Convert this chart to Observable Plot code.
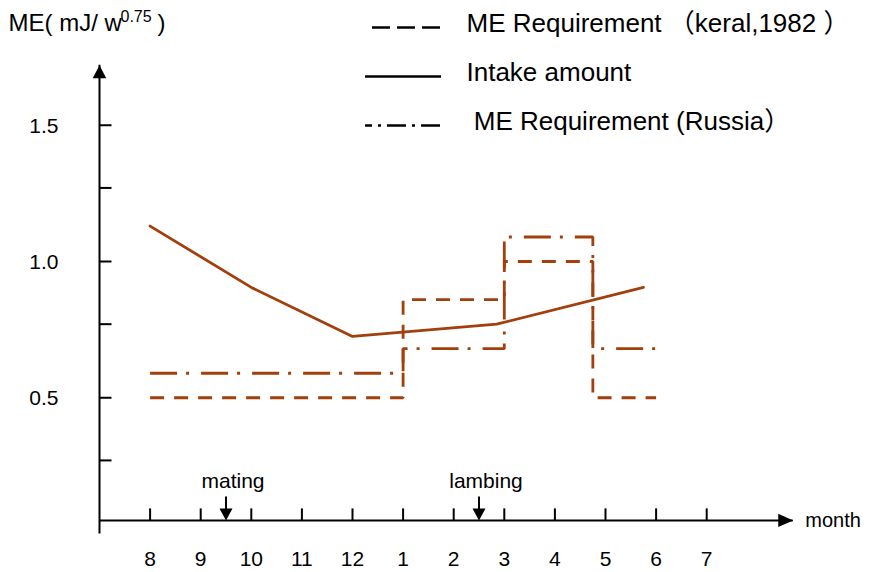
<!DOCTYPE html>
<html><head><meta charset="utf-8">
<script src="https://cdn.jsdelivr.net/npm/d3@7"></script>
<script src="https://cdn.jsdelivr.net/npm/@observablehq/plot@0.6"></script>
<style>
html,body{margin:0;padding:0;background:#fff;}
#chart{position:relative;width:871px;height:572px;overflow:hidden;}
#chart svg{display:block;}
#legend{position:absolute;left:0;top:0;pointer-events:none;}
</style></head><body>
<div id="chart"><div id="main"></div><div id="legend"></div></div>
<script>
// ---- data ----
const months = ["8","9","10","11","12","1","2","3","4","5","6","7"];
const yTickLabels = [1.5, 1.0, 0.5];
const yMinorTicks = [1.27, 0.77, 0.27];
const intakeX = [0, 2, 4, 6.85, 9.75];
const intakeY = [1.13, 0.905, 0.725, 0.77, 0.905];
const keralX = [0, 5, 5, 7, 7, 8.75, 8.75, 10];
const keralY = [0.5, 0.5, 0.86, 0.86, 1.0, 1.0, 0.5, 0.5];
const russiaX = [0, 5, 5, 7, 7, 8.75, 8.75, 10];
const russiaY = [0.59, 0.59, 0.68, 0.68, 1.09, 1.09, 0.68, 0.68];
const eventLabels = ["mating", "lambing"];
const eventMonths = [1.5, 6.5];
const legendLabels = ["ME Requirement （keral,1982 ）", "Intake amount", "\u00A0ME Requirement (Russia）"];
const titleMain = "ME( mJ/ w";
const titleSup = "0.75";
const titleEnd = ")";
const xLabel = "month";

// axis geometry (data units)
const xAxisAt = 0.05, yAxisAt = -1, xAxisEnd = 12.71, yAxisTop = 1.72, yAxisBottom = 0;

const FONT = '"Liberation Sans", Arial, "Noto Sans CJK SC", sans-serif';
const BROWN = "#A23F0C";

const pts = (xs, ys) => xs.map((x, i) => ({x, y: ys[i]}));
const sym = (fn) => ({draw(ctx, size) { const r = Math.sqrt(size / Math.PI); fn(ctx, r); }});
const arrowUp = sym((c, r) => { c.moveTo(0, 0); c.lineTo(-1.3 * r, 2.5 * r); c.lineTo(1.3 * r, 2.5 * r); c.closePath(); });
const arrowRight = sym((c, r) => { c.moveTo(0, 0); c.lineTo(-2.5 * r, -1.1 * r); c.lineTo(-2.5 * r, 1.1 * r); c.closePath(); });
const arrowDown = sym((c, r) => { c.moveTo(0, 0); c.lineTo(-1.3 * r, -2.4 * r); c.lineTo(1.3 * r, -2.4 * r); c.closePath(); c.rect(-1, -2.4 * r - 12, 2, 12.5); });
const tickUp = sym((c, r) => { c.rect(-1, -r, 2, r); });
const tickRight = sym((c, r) => { c.rect(0, -1, r, 2); });

const main = Plot.plot({
  width: 871, height: 572,
  marginTop: 0, marginRight: 0, marginBottom: 0, marginLeft: 0,
  style: {fontFamily: FONT, background: "white", color: "black"},
  x: {type: "linear", domain: [-1, 14], range: [99, 858], axis: null},
  y: {type: "linear", domain: [0, 1.8], range: [533.5, 43], axis: null},
  marks: [
    // axes
    Plot.ruleY([xAxisAt], {x1: yAxisAt, x2: xAxisEnd, stroke: "black", strokeWidth: 2}),
    Plot.ruleX([yAxisAt], {y1: yAxisBottom, y2: yAxisTop, stroke: "black", strokeWidth: 2}),
    Plot.dot([0], {x: () => xAxisEnd, y: () => xAxisAt, symbol: arrowRight, r: 6, fill: "black", stroke: "none"}),
    Plot.dot([0], {x: () => yAxisAt, y: () => yAxisTop, symbol: arrowUp, r: 5.2, fill: "black", stroke: "none"}),
    Plot.dot(months, {x: (d, i) => i, y: () => xAxisAt, symbol: tickUp, r: 12, fill: "black", stroke: "none"}),
    Plot.dot(yTickLabels.concat(yMinorTicks), {x: () => yAxisAt, y: d => d, symbol: tickRight, r: 12, fill: "black", stroke: "none"}),
    Plot.text(months, {x: (d, i) => i, y: () => xAxisAt, text: d => d, dy: 39, lineAnchor: "middle", textAnchor: "middle", fontSize: 21, fill: "black"}),
    Plot.text(yTickLabels, {x: () => yAxisAt, y: d => d, text: d => d.toFixed(1), dx: -41, dy: 1, lineAnchor: "middle", textAnchor: "end", fontSize: 21, fill: "black"}),
    Plot.text([xLabel], {x: () => xAxisEnd, y: () => xAxisAt, text: d => d, dx: 12, lineAnchor: "middle", textAnchor: "start", fontSize: 20, fill: "black"}),
    // events
    Plot.dot(eventMonths, {x: d => d, y: () => xAxisAt, symbol: arrowDown, r: 5, fill: "black", stroke: "none"}),
    Plot.text(eventLabels, {x: (d, i) => eventMonths[i], y: () => xAxisAt, text: d => d, dx: 7, dy: -39, lineAnchor: "middle", textAnchor: "middle", fontSize: 21, fill: "black"}),
    // series
    Plot.line(pts(keralX, keralY), {x: "x", y: "y", stroke: BROWN, strokeWidth: 2.8, strokeDasharray: "14,10", strokeLinecap: "butt", strokeLinejoin: "miter"}),
    Plot.line(pts(russiaX, russiaY), {x: "x", y: "y", stroke: BROWN, strokeWidth: 2.8, strokeDasharray: "27,9,3,12", strokeLinecap: "butt", strokeLinejoin: "miter"}),
    Plot.line(pts(intakeX, intakeY), {x: "x", y: "y", stroke: BROWN, strokeWidth: 2.8}),
    // title
    Plot.text([titleMain], {frameAnchor: "top-left", text: d => d, dx: 8, dy: 13, lineAnchor: "top", textAnchor: "start", fontSize: 24, fill: "black"}),
    Plot.text([titleSup], {frameAnchor: "top-left", text: d => d, dx: 120, dy: 10, lineAnchor: "top", textAnchor: "start", fontSize: 16, fill: "black"}),
    Plot.text([titleEnd], {frameAnchor: "top-left", text: d => d, dx: 157, dy: 13, lineAnchor: "top", textAnchor: "start", fontSize: 24, fill: "black"})
  ]
});
document.getElementById("main").appendChild(main);

const legend = Plot.plot({
  width: 871, height: 150,
  marginTop: 0, marginRight: 0, marginBottom: 0, marginLeft: 0,
  style: {fontFamily: FONT, background: "transparent", color: "black"},
  x: {type: "linear", domain: [0, 1], range: [365, 441], axis: null},
  y: {type: "point", domain: legendLabels, range: [26, 125], padding: 0, axis: null},
  marks: [
    Plot.ruleY([legendLabels[0]], {y: d => d, x1: 0, x2: 1, stroke: "black", strokeWidth: 2.5, strokeDasharray: "18,7", strokeDashoffset: 18}),
    Plot.ruleY([legendLabels[1]], {y: d => d, x1: 0, x2: 1, stroke: "black", strokeWidth: 2.5}),
    Plot.ruleY([legendLabels[2]], {y: d => d, x1: 0, x2: 1, stroke: "black", strokeWidth: 2.5, strokeDasharray: "19,6,3,6", strokeDashoffset: 12}),
    Plot.text(legendLabels, {x: () => 1, y: d => d, text: d => d, dx: 25, dy: -4, lineAnchor: "middle", textAnchor: "start", fontSize: 26, fill: "black"})
  ]
});
document.getElementById("legend").appendChild(legend);
</script>
</body></html>
